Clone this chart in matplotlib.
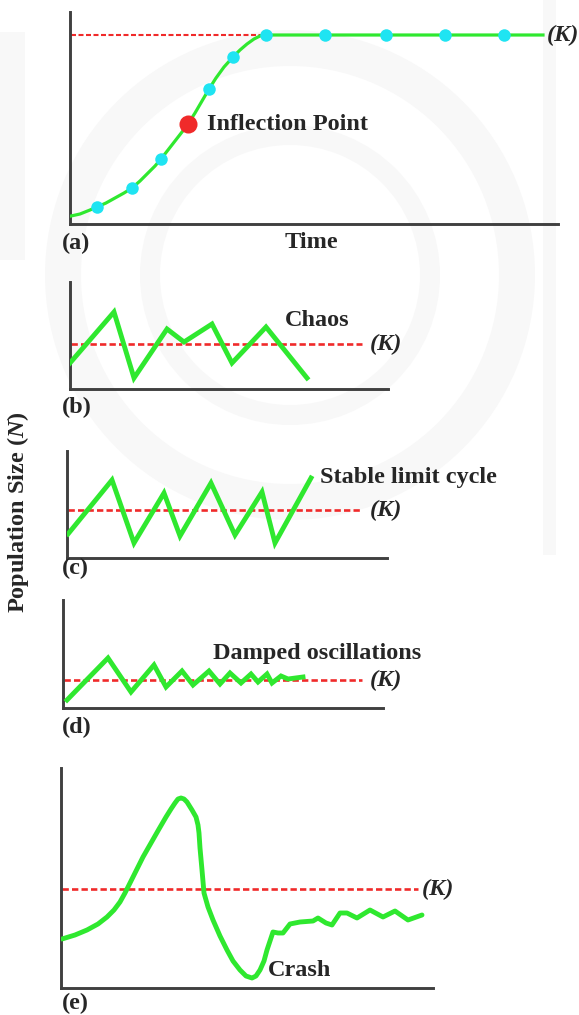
import matplotlib
matplotlib.use("Agg")
import matplotlib.pyplot as plt
from matplotlib.patches import Wedge, Rectangle

plt.rcParams["font.family"] = ["Liberation Serif", "DejaVu Serif"]
plt.rcParams["mathtext.fontset"] = "custom"
plt.rcParams["mathtext.it"] = "Liberation Serif:italic:bold"
plt.rcParams["mathtext.rm"] = "Liberation Serif:bold"

W, H = 579, 1015
GREEN = "#2fe82f"
RED = "#f02a2a"
CYAN = "#1fe4f2"
AXIS = "#404040"
TEXT = "#262626"
FS = 17.5

# (a) logistic growth
time_a = [1, 10, 20, 27, 36, 45, 54, 62, 70, 78, 85, 91, 98, 105, 112, 118, 125, 132,
          139, 146, 154, 163, 170, 177, 184, 190, 196, 473]
pop_a = [8, 10, 14, 17, 21, 26, 31, 36, 43, 51, 58, 65, 74, 83, 92, 100, 111, 123,
         135, 146, 157, 167, 174, 180, 185, 188, 189, 189]
dots_t_a = [27, 62, 91, 139, 163, 196, 255, 316, 375, 434]
dots_n_a = [17, 36, 65, 135, 167, 189, 189, 189, 189, 189]
inflection_t, inflection_n = 118, 100
K_a = 189

# (b) chaos
time_b = [0, 44, 64, 97, 114, 142, 162, 196, 237]
pop_b = [26, 77, 11, 60, 47, 65, 26, 62, 11]
K_b = 45

# (c) stable limit cycle
time_c = [1, 45, 67, 97, 113, 144, 168, 195, 208, 244]
pop_c = [24, 78, 15, 65, 22, 75, 23, 66, 15, 80]
K_c = 48

# (d) damped oscillations
time_d = [4, 45, 68, 91, 103, 119, 130, 146, 157, 167, 178, 188, 195, 204, 209, 218, 225, 240]
pop_d = [8, 50, 16, 43, 21, 37, 23, 37, 24, 35, 25, 34, 26, 34, 25, 32, 29, 31]
K_d = 28

# (e) overshoot and crash
time_e = [1, 14, 26, 37, 46, 53, 59, 64, 69, 75, 82, 90, 98, 105, 110, 114, 117, 120,
          123, 126, 131, 135, 137, 138, 139, 141, 143, 147, 152, 159, 166, 172, 179,
          185, 191, 195, 199, 203, 206, 212, 217, 222, 229, 239, 252, 257, 265, 271,
          279, 286, 296, 309, 322, 334, 347, 361]
pop_e = [49, 53, 58, 64, 71, 78, 86, 95, 105, 117, 131, 145, 159, 171, 179, 185, 189, 190,
         189, 186, 178, 171, 163, 155, 140, 118, 95, 81, 68, 52, 38, 27, 18,
         12, 10, 12, 18, 27, 38, 56, 55, 55, 64, 66, 67, 70, 65, 63,
         75, 75, 70, 78, 71, 77, 68, 73]
K_e = 99

fig = plt.figure(figsize=(W / 100, H / 100), dpi=100)

# faint background emblem
bg = fig.add_axes([0, 0, 1, 1], zorder=-5)
bg.set_xlim(0, W)
bg.set_ylim(H, 0)
bg.axis("off")
wm = "#f8f8f8"
bg.add_patch(Wedge((290, 275), 245, 0, 360, width=36, color=wm, lw=0))
bg.add_patch(Wedge((290, 275), 150, 0, 360, width=20, color=wm, lw=0))
bg.add_patch(Rectangle((543, 0), 13, 555, color=wm, lw=0))
bg.add_patch(Rectangle((0, 32), 25, 228, color=wm, lw=0))


def panel(left, right, top, bottom):
    ax = fig.add_axes([left / W, 1 - bottom / H, (right - left) / W, (bottom - top) / H])
    ax.set_xlim(0, right - left)
    ax.set_ylim(0, bottom - top)
    ax.patch.set_alpha(0)
    for s in ("top", "right"):
        ax.spines[s].set_visible(False)
    for s in ("left", "bottom"):
        ax.spines[s].set_color(AXIS)
        ax.spines[s].set_linewidth(2.1)
    ax.set_xticks([])
    ax.set_yticks([])
    return ax


def k_line(ax, k, x_end, lw=1.9):
    ax.hlines(k, 1, x_end, colors=RED, linestyles=(0, (2.4, 1.2)), lw=lw, zorder=2)


def label(ax, x, y, s, **kw):
    ax.text(x, y, s, fontsize=FS, fontweight="bold", color=TEXT, va="center",
            clip_on=False, **kw)


def kappa(ax, x, y):
    ax.text(x, y, "(K)", fontsize=FS, fontweight="bold", style="italic", color=TEXT,
            va="center", clip_on=False)


# panel (a)
ax = panel(70, 558, 12, 224)
k_line(ax, K_a, 196, lw=1.5)
ax.plot(time_a, pop_a, color=GREEN, lw=2.3, solid_joinstyle="round", zorder=3)
ax.plot(dots_t_a, dots_n_a, "o", color=CYAN, ms=9, mec="none", zorder=4, clip_on=False)
ax.plot([inflection_t], [inflection_n], "o", color=RED, ms=13, mec="none", zorder=5)
kappa(ax, 477, 189)
label(ax, 137, 100, "Inflection Point")
label(ax, -8, -19, "(a)")
label(ax, 241, -18, "Time", ha="center")

# panel (b)
ax = panel(70, 388, 282, 389)
k_line(ax, K_b, 292)
ax.plot(time_b, pop_b, color=GREEN, lw=3.5, solid_joinstyle="miter", zorder=3)
label(ax, 215, 69, "Chaos")
kappa(ax, 300, K_b)
label(ax, -8, -18, "(b)")

# panel (c)
ax = panel(67, 387, 451, 558)
k_line(ax, K_c, 295)
ax.plot(time_c, pop_c, color=GREEN, lw=3.5, solid_joinstyle="miter", zorder=3)
label(ax, 253, 81, "Stable limit cycle")
kappa(ax, 303, K_c)
label(ax, -5, -10, "(c)")

# panel (d)
ax = panel(63, 383, 600, 708)
k_line(ax, K_d, 299)
ax.plot(time_d, pop_d, color=GREEN, lw=3.5, solid_joinstyle="miter", zorder=3)
label(ax, 150, 55, "Damped oscillations")
kappa(ax, 307, K_d)
label(ax, -1, -19, "(d)")

# panel (e)
ax = panel(61, 433, 768, 988)
k_line(ax, K_e, 357)
ax.plot(time_e, pop_e, color=GREEN, lw=3.5, solid_joinstyle="round",
        solid_capstyle="round", zorder=3)
label(ax, 207, 18, "Crash")
kappa(ax, 361, K_e)
label(ax, 1, -15, "(e)")

fig.text(18 / W, 1 - 512 / H, r"Population Size ($N$)", fontsize=FS, fontweight="bold",
         color=TEXT, rotation=90, ha="center", va="center")

fig.savefig("out.png", dpi=100)
